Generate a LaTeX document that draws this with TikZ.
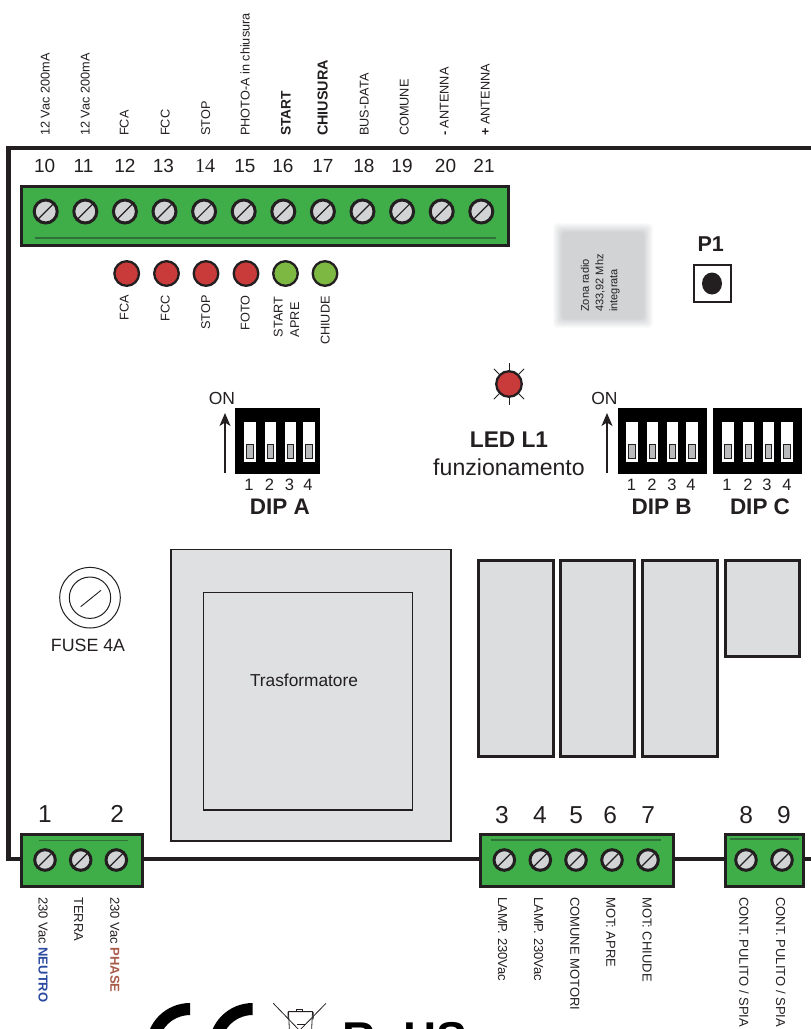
\documentclass[tikz,border=0pt]{standalone}
\usepackage{fontspec}
\setmainfont{Liberation Sans}
\newfontfamily\serifnum{Liberation Serif}
\usetikzlibrary{arrows.meta}
\definecolor{ink}{HTML}{231F20}
\definecolor{pcbgreen}{HTML}{3FAE49}
\definecolor{darkline}{HTML}{2F6F3A}
\definecolor{metal}{HTML}{D1D3D4}
\definecolor{redled}{HTML}{C93A3A}
\definecolor{greenled}{HTML}{7CB842}
\definecolor{part}{HTML}{DFE0E1}
\definecolor{relayfill}{HTML}{DCDDDF}
\definecolor{slider}{HTML}{B9BABC}
\definecolor{neutro}{HTML}{2B4A9F}
\definecolor{phase}{HTML}{A95B4A}
\tikzset{
  fs/.code={\pgfmathsetmacro\capht{0.716*#1}\tikzset{font=\fontsize{#1}{#1}\selectfont,text height=\capht pt,text depth=0pt,inner sep=0pt,text=ink}},
  uplabel/.style={fs=12.7,rotate=90,anchor=west},
  sidelabel/.style={fs=12.7,rotate=90,anchor=east},
  downlabel/.style={fs=13,rotate=-90,anchor=west},
  termnum/.style={fs=19},
  botnum/.style={fs=24.5},
  block/.style={draw=ink,line width=3pt,fill=pcbgreen},
  blockline/.style={draw=darkline,line width=1.2pt},
  screwA/.style={circle,draw=ink,fill=metal,line width=3pt,minimum size=23pt,inner sep=0pt},
  screwB/.style={circle,draw=ink,fill=metal,line width=3pt,minimum size=20.6pt,inner sep=0pt},
  slash/.style={draw=ink,line width=1.2pt},
  led/.style={circle,draw=ink,line width=2.3pt,minimum size=24.6pt,inner sep=0pt},
  relaybox/.style={draw=ink,line width=3pt,fill=relayfill},
  corebox/.style={draw=ink,line width=1.5pt,fill=part},
  wire/.style={draw=ink,line width=4.4pt},
  updir/.style={draw=ink,line width=1.5pt,-{Stealth[length=13pt,width=11pt,inset=3.5pt]}},
  ray/.style={draw=ink,line width=.8pt},
}
\newcommand{\dipsw}[7]{% name, x0, x1, windows, number positions, title x, title
  \fill[black] (#2,407.5) rectangle (#3,474);
  \foreach \wl/\wr [count=\k] in {#4} {
    \fill[white] (\wl,422) rectangle (\wr,462);
    \pgfmathsetmacro\sl{\wl+(\wr-\wl)/2-3.2}
    \pgfmathsetmacro\sr{\wl+(\wr-\wl)/2+3.2}
    \draw[ink,line width=.9pt,fill=slider] (\sl,444) rectangle (\sr,458.5);
  }
  \foreach \nx [count=\k] in {#5} {
    \node[fs=16.5] (#1n\k) at (\nx,484.5) {\k};
  }
  \node[fs=22.5,font=\fontsize{22.5}{22.5}\selectfont\bfseries] (#1t) at (#6,506.5) {#7};
}
\begin{document}
\begin{tikzpicture}[x=1pt,y=-1pt]
\useasboundingbox (0,0) rectangle (811,1029);
\clip (0,0) rectangle (811,1029);

% board outline
\coordinate (bTR) at (811,148);
\coordinate (bTL) at (8.5,148);
\coordinate (bBL) at (8.5,859);
\coordinate (bBR) at (811,859);
\draw[wire,line join=miter] (bTR) -- (bTL) -- (bBL) -- (bBR);

% top terminal block
\draw[block] (21,186.5) rectangle (508.5,245.5);
\coordinate (tl1) at (35,238);
\coordinate (tl2) at (496,238);
\draw[blockline] (tl1) -- (tl2);
\foreach \i [count=\k from 0] in {10,...,21} {
  \pgfmathsetmacro\sx{45.7+39.6*\k}
  \node[screwA] (s\i) at (\sx,211.5) {};
  \draw[slash] (s\i.225) -- (s\i.45);
}
\foreach \i/\x in {10/44.7,11/83.5,12/125,13/163.5,15/245,16/283,17/323,18/364,19/402,20/445.5,21/484} {
  \node[termnum] (n\i) at (\x,166) {\i};
}
\node[termnum,font=\fontsize{20}{20}\selectfont\serifnum] (n14) at (205,166) {14};

% top labels
\node[uplabel] (l10) at (45,136) {12 Vac 200mA};
\node[uplabel] (l11) at (85,136) {12 Vac 200mA};
\node[uplabel] (l12) at (124,136) {FCA};
\node[uplabel] (l13) at (165,136) {FCC};
\node[uplabel] (l14) at (205.5,136) {STOP};
\node[uplabel] (l15) at (245,136) {PHOTO-A in chiusura};
\node[uplabel,font=\fontsize{13.8}{13.8}\selectfont\bfseries] (l16) at (286,136) {START};
\node[uplabel,font=\fontsize{14.4}{14.4}\selectfont\bfseries] (l17) at (323,136) {CHIUSURA};
\node[uplabel] (l18) at (364,136) {BUS-DATA};
\node[uplabel] (l19) at (404,136) {COMUNE};
\node[uplabel] (l20) at (444,136) {{\bfseries -} ANTENNA};
\node[uplabel] (l21) at (485,136) {{\bfseries +} ANTENNA};

% status LEDs
\foreach \x/\c/\nm in {126.7/redled/a,166.5/redled/b,206/redled/c,246/redled/d,285.5/greenled/e,325/greenled/f} {
  \node[led,fill=\c] (led\nm) at (\x,273.5) {};
}
\node[sidelabel] (la) at (124,295) {FCA};
\node[sidelabel] (lb) at (165,295) {FCC};
\node[sidelabel] (lc) at (205.5,295) {STOP};
\node[sidelabel] (ld) at (245,295) {FOTO};
\node[fs=12.7,rotate=90,anchor=west] (le1) at (278,337.3) {START};
\node[fs=12.7,rotate=90,anchor=west] (le2) at (294.5,337.3) {APRE};
\node[sidelabel] (lf) at (325,296) {CHIUDE};

% radio zone
\foreach \i in {0,...,11} {
  \pgfmathsetmacro\ins{\i*0.9}
  \pgfmathsetmacro\pc{min(100,(\i+1)*9)}
  \fill[metal!\pc!white,rounded corners=4pt] (553+\ins,223+\ins) rectangle (653-\ins,328-\ins);
}
\node[fs=11,rotate=90,anchor=west] (rz1) at (585,312) {Zona radio};
\node[fs=11,rotate=90,anchor=west] (rz2) at (599.5,312) {433,92 Mhz};
\node[fs=11,rotate=90,anchor=west] (rz3) at (613.5,312) {integrata};

% P1
\node[fs=21.5,font=\fontsize{21.5}{21.5}\selectfont\bfseries] (p1t) at (710.7,243.5) {P1};
\node[draw=ink,line width=2pt,fill=white,minimum size=37pt,inner sep=0pt] (p1b) at (712,283.5) {};
\fill[ink] (p1b.center) ellipse [x radius=10,y radius=11];

% LED L1
\node[led,fill=redled,minimum size=25.5pt] (l1) at (509,384) {};
\draw[ray] (l1.45) -- ++(5.3,-5.3);
\draw[ray] (l1.135) -- ++(-5.3,-5.3);
\draw[ray] (l1.225) -- ++(-5.3,5.3);
\draw[ray] (l1.315) -- ++(5.3,5.3);
\draw[ray] (l1.north) -- ++(0,-7.5);
\draw[ray] (l1.south) -- ++(0,7.5);
\node[fs=22.7,font=\fontsize{22.7}{22.7}\selectfont\bfseries] (l1t) at (509,439) {LED L1};
\node[fs=23.1] (l1s) at (509,467) {funzionamento};

% DIP switches
\dipsw{da}{235}{320}{244/256,265/275.7,285/296,303/315}{249,269.5,289.5,308}{280}{DIP A}
\dipsw{db}{618}{707}{626/638,647/658,667/678,686/698}{631.5,652,672,691}{661.7}{DIP B}
\dipsw{dc}{713}{802}{722/734,743/754,763/774,781/793}{727,748,767,787}{760}{DIP C}
\node[fs=17.5] (ona) at (222,398) {ON};
\node[fs=17.5] (onb) at (604.5,398) {ON};
\coordinate (aa1) at (225,473);
\coordinate (aa2) at (225,413);
\coordinate (ab1) at (607,473);
\coordinate (ab2) at (607,413);
\draw[updir] (aa1) -- (aa2);
\draw[updir] (ab1) -- (ab2);

% fuse
\node[circle,draw=ink,line width=1pt,minimum size=60.6pt,inner sep=0pt] (fo) at (90,597.7) {};
\node[circle,draw=ink,line width=1pt,minimum size=41.4pt,inner sep=0pt] (fi) at (90,597.7) {};
\coordinate (f1) at (80.7,606.7);
\coordinate (f2) at (101,590.3);
\draw[ink,line width=.9pt] (f1) -- (f2);
\node[fs=17.8] (ft) at (88,644.7) {FUSE 4A};

% transformer
\draw[corebox] (171,549.7) rectangle (451,841);
\draw[corebox] (203.7,592.7) rectangle (412.3,810);
\node[fs=17.3] (tr) at (304,680) {Trasformatore};

% relays
\draw[relaybox] (478.7,560) rectangle (553.3,756);
\draw[relaybox] (560,560) rectangle (634.7,756);
\draw[relaybox] (642.7,560) rectangle (717,756);
\draw[relaybox] (725.3,560) rectangle (799.7,656);

% bottom block 1
\draw[block] (21.5,834.8) rectangle (142.5,886);
\coordinate (bl1a) at (39,840.7);
\coordinate (bl1b) at (128,840.7);
\draw[blockline] (bl1a) -- (bl1b);
\foreach \i/\x in {1/45,t/80.7,2/116.3} {
  \node[screwB] (s\i) at (\x,860) {};
  \draw[slash] (s\i.225) -- (s\i.45);
}
\node[botnum] (n1) at (45,814) {1};
\node[botnum] (n2) at (117.3,814) {2};
\node[downlabel] (lb1) at (43.3,897) {230 Vac {\bfseries\color{neutro}NEUTRO}};
\node[downlabel] (lbt) at (78.7,897) {TERRA};
\node[downlabel] (lb2) at (115,897) {230 Vac {\bfseries\color{phase}PHASE}};

% bottom block 2
\draw[block] (480.8,834.8) rectangle (673.5,886);
\coordinate (bl2a) at (490.7,840);
\coordinate (bl2b) at (661,840);
\draw[blockline] (bl2a) -- (bl2b);
\foreach \i/\x/\nx in {3/504.3/502,4/540.3/540,5/576/576.3,6/612/610.3,7/648/648.3} {
  \node[screwB] (s\i) at (\x,860) {};
  \draw[slash] (s\i.225) -- (s\i.45);
  \node[botnum] (n\i) at (\nx,815) {\i};
}
\node[downlabel] (lb3) at (502.7,897) {LAMP. 230Vac};
\node[downlabel] (lb4) at (538.7,897) {LAMP. 230Vac};
\node[downlabel] (lb5) at (575,897) {COMUNE MOTORI};
\node[downlabel] (lb6) at (611,897) {MOT: APRE};
\node[downlabel] (lb7) at (647.3,897) {MOT: CHIUDE};

% bottom block 3
\draw[block] (725.5,834.8) rectangle (803.2,886);
\coordinate (bl3a) at (730,839);
\coordinate (bl3b) at (798.7,839);
\draw[blockline] (bl3a) -- (bl3b);
\foreach \i/\x/\nx in {8/746/746.3,9/782/784} {
  \node[screwB] (s\i) at (\x,860) {};
  \draw[slash] (s\i.225) -- (s\i.45);
  \node[botnum] (n\i) at (\nx,815) {\i};
}
\node[downlabel] (lb8) at (744,897) {CONT. PULITO / SPIA};
\node[downlabel] (lb9) at (780.7,897) {CONT. PULITO / SPIA};

% CE mark (cut by the page edge)
\fill[black] (190,1003) arc[start angle=90,end angle=230,radius=43.8pt] -- (169.6,1071.2) arc[start angle=230,end angle=90,radius=31.8pt] -- cycle;
\fill[black] (252.7,1003) arc[start angle=90,end angle=230,radius=43.8pt] -- (232.3,1071.2) arc[start angle=230,end angle=90,radius=31.8pt] -- cycle;

% crossed bin
\coordinate (xa1) at (273.3,1003.3);
\coordinate (xa2) at (301,1032);
\coordinate (xb1) at (326,1003.3);
\coordinate (xb2) at (298,1032);
\draw[ink,line width=.8pt] (xa1) -- (xa2);
\draw[ink,line width=.8pt] (xb1) -- (xb2);
\draw[ink,line width=.7pt] (296.5,1009.5) rectangle (302.5,1011);
\draw[ink,line width=1pt,rounded corners=.8pt] (288,1019) -- (288,1011.5) -- (313,1011.5) -- (313,1019);
\draw[ink,line width=.8pt] (288.5,1012) -- (289.5,1032);
\draw[ink,line width=.8pt] (312.5,1012) -- (311.5,1032);
\draw[ink,line width=.9pt] (297,1024.5) -- (305,1024.5);

% RoHS
\node[anchor=base west,inner sep=0pt,text=black,font=\fontsize{46}{46}\selectfont\bfseries] (rohs) at (342,1054) {RoHS};
\end{tikzpicture}
\end{document}
